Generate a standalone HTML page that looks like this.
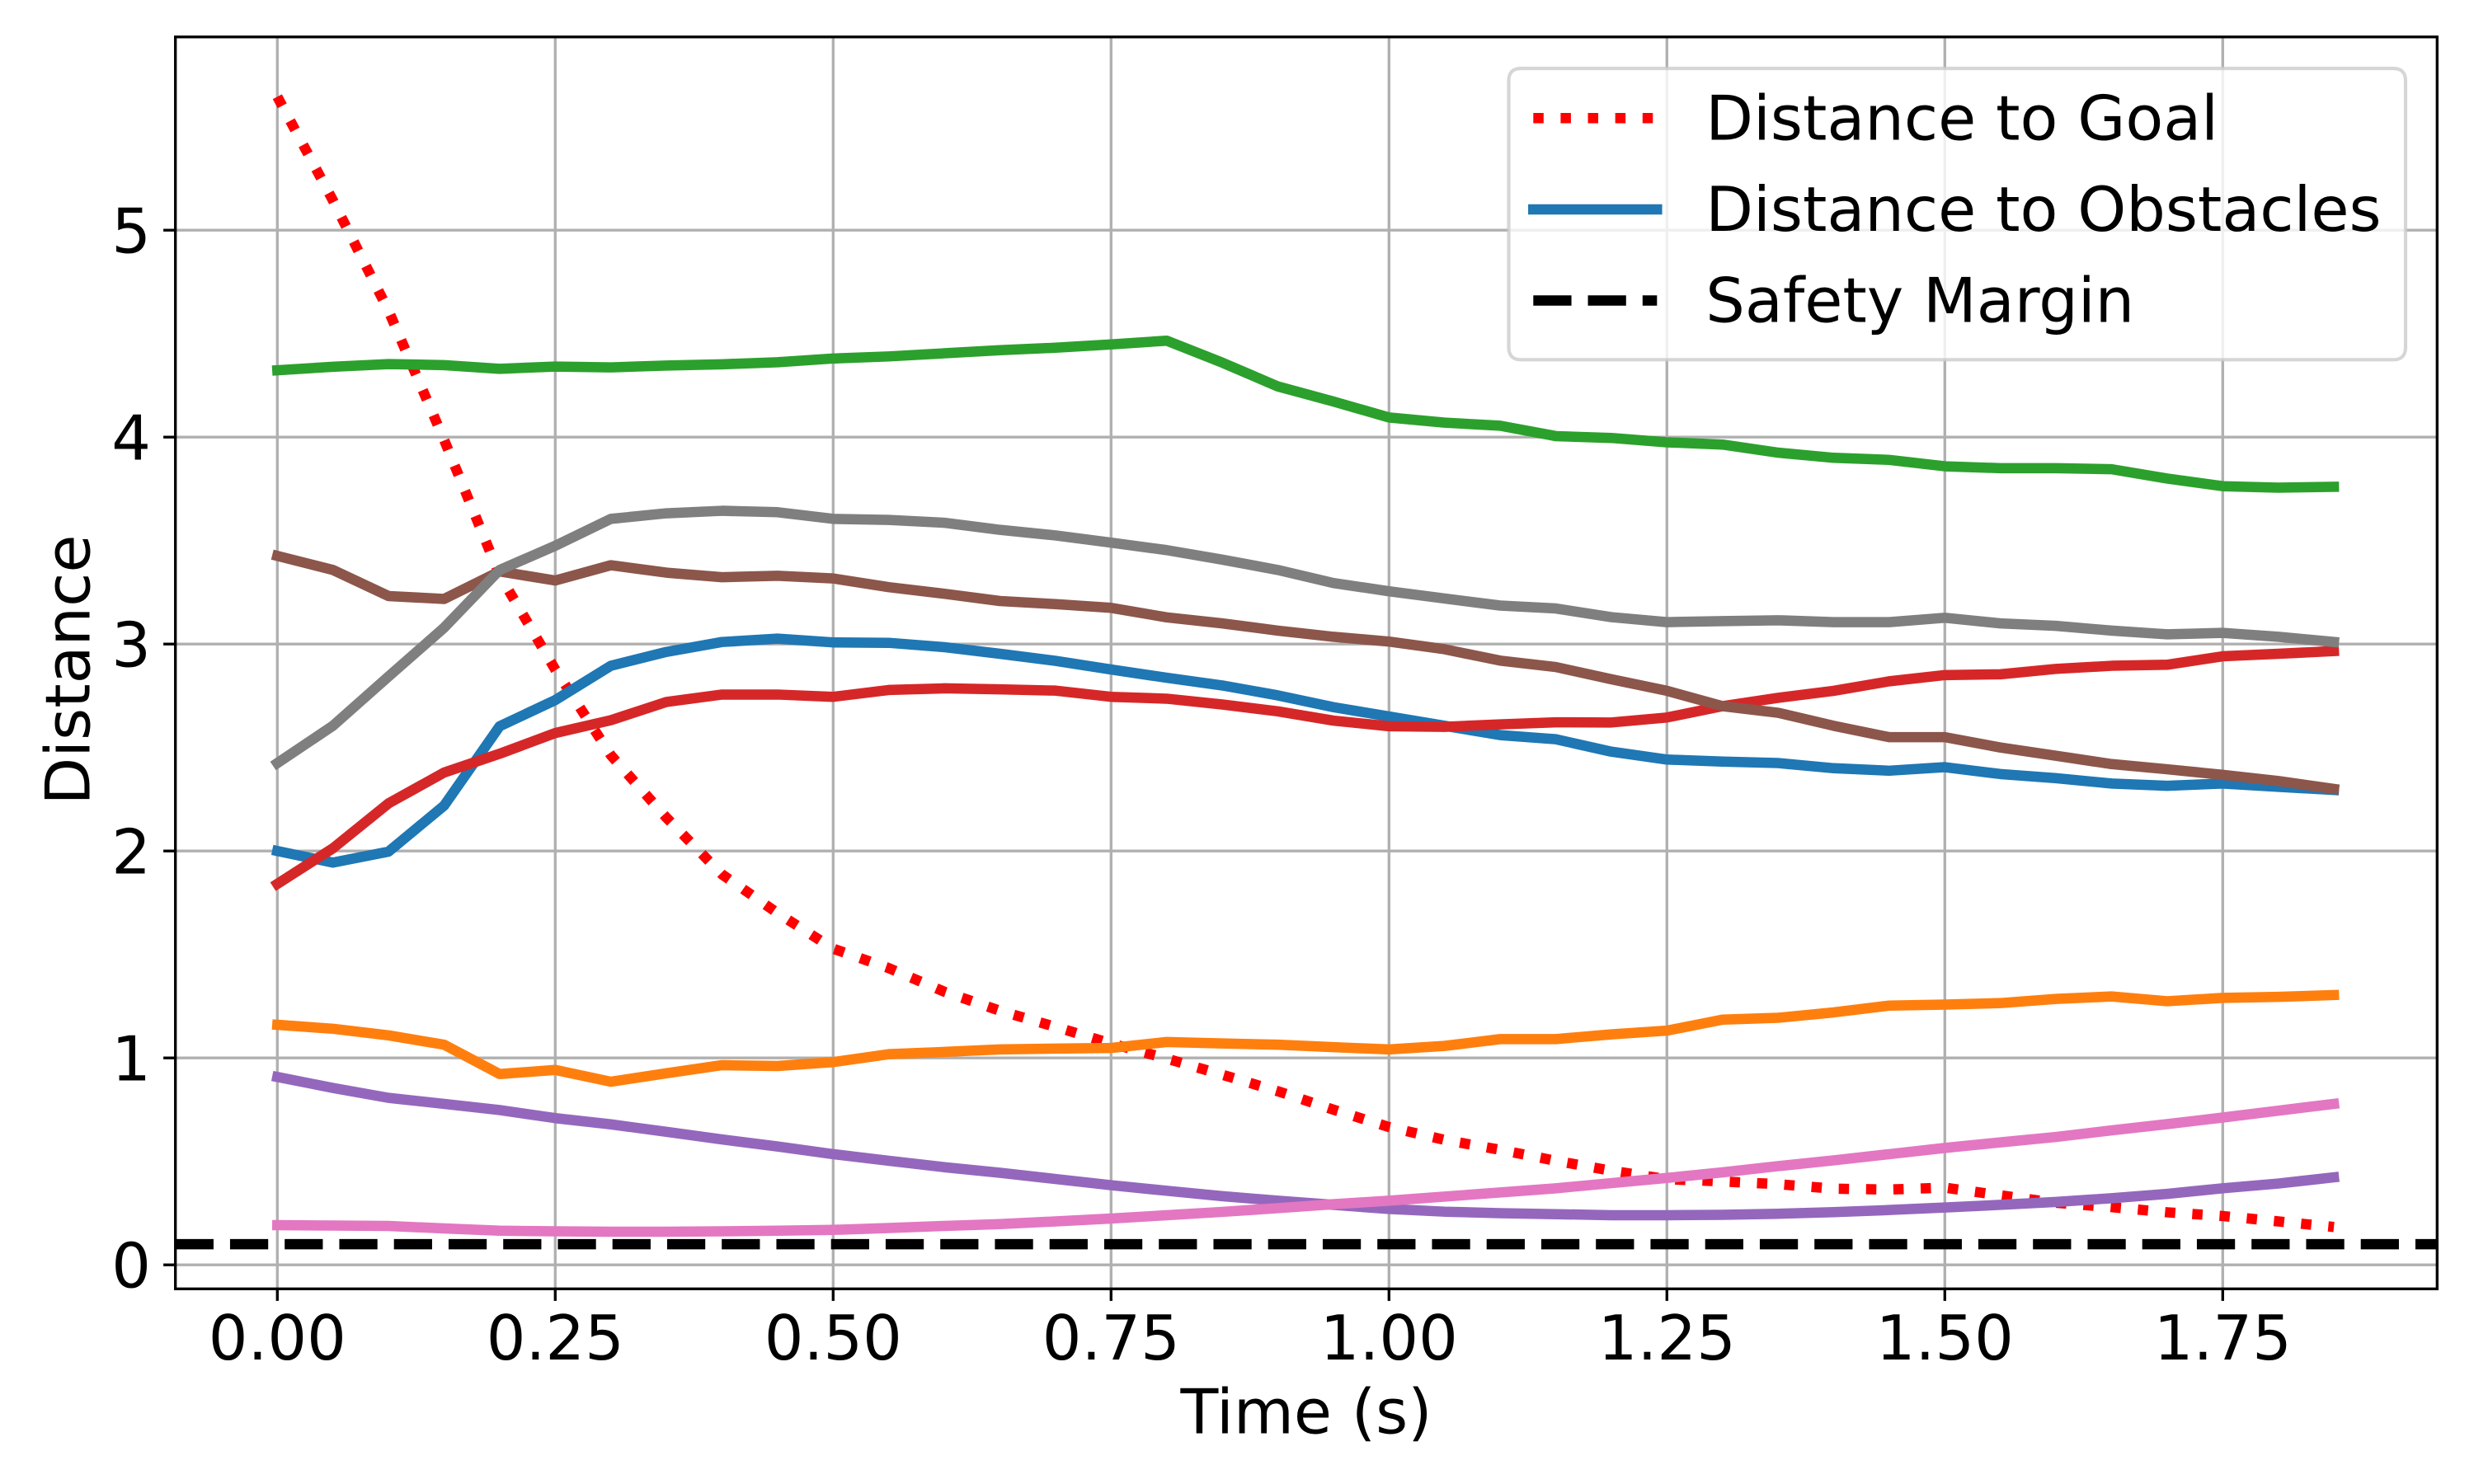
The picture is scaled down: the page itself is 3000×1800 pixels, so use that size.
<!DOCTYPE html>
<html lang="en">
<head>
<meta charset="utf-8">
<title>Distance over time</title>
<style>
  html, body { margin: 0; padding: 0; background: #fff; }
  svg { display: block; }
  text { font-family: "DejaVu Sans", "Liberation Sans", sans-serif; font-size: 75px; fill: #000; }
</style>
</head>
<body>
<svg id="chart" xmlns="http://www.w3.org/2000/svg" width="3000" height="1800" viewBox="0 0 3000 1800">
  <rect x="0" y="0" width="3000" height="1800" fill="#ffffff"/>
  <defs>
    <clipPath id="plot-clip"><rect x="212.7" y="44.8" width="2742.6" height="1518.5"/></clipPath>
  </defs>
  <g id="grid"></g>
  <g id="series" clip-path="url(#plot-clip)"></g>
  <g id="ticks"></g>
  <rect x="212.7" y="44.8" width="2742.6" height="1518.5" fill="none" stroke="#000" stroke-width="3.33"/>
  <text x="1584" y="1738.5" text-anchor="middle">Time (s)</text>
  <text transform="translate(108.5,812.5) rotate(-90)" text-anchor="middle">Distance</text>
  <g>
    <path d="M1844.5 83 H2902 Q2917 83 2917 98 V421.3 Q2917 436.3 2902 436.3 H1844.5 Q1829.5 436.3 1829.5 421.3 V98 Q1829.5 83 1844.5 83 Z" fill="#ffffff" fill-opacity="0.8" stroke="#cccccc" stroke-opacity="0.8" stroke-width="4.17"/>
    <line x1="1859.3" y1="143.3" x2="2009.3" y2="143.3" stroke="#ff0000" stroke-width="12.5" stroke-dasharray="12.5 20.62"/>
    <text x="2068.3" y="169.3">Distance to Goal</text>
    <line x1="1859.3" y1="254" x2="2009.3" y2="254" stroke="#1f77b4" stroke-width="12.5" stroke-linecap="square"/>
    <text x="2068.3" y="280">Distance to Obstacles</text>
    <line x1="1859.3" y1="364.5" x2="2009.3" y2="364.5" stroke="#000000" stroke-width="12.5" stroke-dasharray="46.25 20"/>
    <text x="2068.3" y="390.7">Safety Margin</text>
  </g>
</svg>
<script>
const times = [0, 0.05, 0.10, 0.15, 0.20, 0.25, 0.30, 0.35, 0.40, 0.45, 0.50, 0.55, 0.60, 0.65, 0.70, 0.75, 0.80, 0.85, 0.90, 0.95, 1.00, 1.05, 1.10, 1.15, 1.20, 1.25, 1.30, 1.35, 1.40, 1.45, 1.50, 1.55, 1.60, 1.65, 1.70, 1.75, 1.80, 1.85];
const goalDistance = [5.645, 5.144, 4.611, 3.987, 3.333, 2.877, 2.463, 2.161, 1.887, 1.70, 1.528, 1.434, 1.32, 1.228, 1.15, 1.07, 0.997, 0.919, 0.839, 0.75, 0.666, 0.604, 0.556, 0.503, 0.455, 0.414, 0.403, 0.39, 0.368, 0.364, 0.373, 0.336, 0.30, 0.279, 0.254, 0.236, 0.21, 0.183];
const obstacleBlue = [2.00, 1.944, 1.997, 2.219, 2.603, 2.729, 2.895, 2.962, 3.01, 3.026, 3.008, 3.006, 2.985, 2.953, 2.919, 2.877, 2.837, 2.8, 2.752, 2.695, 2.65, 2.605, 2.56, 2.54, 2.48, 2.442, 2.432, 2.425, 2.4, 2.388, 2.405, 2.372, 2.352, 2.326, 2.315, 2.326, 2.31, 2.295];
const obstacleOrange = [1.16, 1.141, 1.109, 1.064, 0.922, 0.942, 0.885, 0.926, 0.965, 0.961, 0.98, 1.018, 1.029, 1.041, 1.045, 1.048, 1.077, 1.07, 1.064, 1.052, 1.041, 1.058, 1.091, 1.091, 1.114, 1.132, 1.185, 1.194, 1.22, 1.253, 1.258, 1.265, 1.285, 1.297, 1.274, 1.29, 1.295, 1.304];
const obstacleGreen = [4.323, 4.34, 4.353, 4.348, 4.33, 4.341, 4.337, 4.346, 4.352, 4.362, 4.38, 4.39, 4.405, 4.42, 4.432, 4.448, 4.466, 4.36, 4.245, 4.172, 4.095, 4.07, 4.055, 4.005, 3.996, 3.975, 3.964, 3.925, 3.9, 3.89, 3.859, 3.85, 3.85, 3.845, 3.80, 3.763, 3.756, 3.76];
const obstacleRed = [1.841, 2.013, 2.23, 2.379, 2.47, 2.57, 2.632, 2.72, 2.756, 2.756, 2.745, 2.778, 2.786, 2.781, 2.775, 2.745, 2.736, 2.708, 2.675, 2.63, 2.603, 2.6, 2.612, 2.622, 2.621, 2.645, 2.7, 2.74, 2.774, 2.82, 2.85, 2.854, 2.88, 2.895, 2.90, 2.941, 2.953, 2.966];
const obstaclePurple = [0.908, 0.855, 0.807, 0.778, 0.748, 0.709, 0.679, 0.643, 0.606, 0.572, 0.535, 0.503, 0.472, 0.445, 0.415, 0.385, 0.358, 0.332, 0.31, 0.29, 0.27, 0.257, 0.25, 0.245, 0.24, 0.24, 0.242, 0.247, 0.255, 0.265, 0.277, 0.29, 0.304, 0.322, 0.343, 0.37, 0.393, 0.423];
const obstacleBrown = [3.426, 3.358, 3.232, 3.218, 3.351, 3.307, 3.381, 3.345, 3.323, 3.33, 3.317, 3.275, 3.243, 3.208, 3.193, 3.175, 3.129, 3.10, 3.065, 3.035, 3.012, 2.975, 2.92, 2.889, 2.83, 2.774, 2.7, 2.668, 2.605, 2.55, 2.55, 2.50, 2.46, 2.42, 2.395, 2.368, 2.338, 2.30];
const obstaclePink = [0.192, 0.19, 0.188, 0.176, 0.165, 0.162, 0.16, 0.16, 0.162, 0.165, 0.169, 0.178, 0.188, 0.197, 0.21, 0.224, 0.24, 0.256, 0.274, 0.293, 0.31, 0.33, 0.35, 0.37, 0.395, 0.42, 0.447, 0.477, 0.505, 0.535, 0.565, 0.592, 0.618, 0.65, 0.68, 0.712, 0.745, 0.778];
const obstacleGray = [2.425, 2.605, 2.843, 3.079, 3.358, 3.475, 3.605, 3.632, 3.644, 3.637, 3.605, 3.6, 3.586, 3.552, 3.525, 3.49, 3.454, 3.408, 3.358, 3.295, 3.255, 3.22, 3.186, 3.172, 3.13, 3.106, 3.111, 3.115, 3.106, 3.106, 3.127, 3.10, 3.088, 3.065, 3.047, 3.054, 3.035, 3.01];
const safetyMargin = 0.1;
const xTickValues = [0, 0.25, 0.5, 0.75, 1, 1.25, 1.5, 1.75];
const xTickLabels = ["0.00", "0.25", "0.50", "0.75", "1.00", "1.25", "1.50", "1.75"];
const yTickValues = [0, 1, 2, 3, 4, 5];
const yTickLabels = ["0", "1", "2", "3", "4", "5"];

const NS = 'http://www.w3.org/2000/svg';
const plot = { left: 212.7, right: 2955.3, top: 44.8, bottom: 1563.3 };
function xScale(t) { return 336.3 + 1348 * t; }
function yScale(v) { return 1534.2 - 251 * v; }

const gridLayer = document.getElementById('grid');
const tickLayer = document.getElementById('ticks');
const seriesLayer = document.getElementById('series');

function make(tag, parent, attrs) {
  const node = document.createElementNS(NS, tag);
  for (const key in attrs) node.setAttribute(key, attrs[key]);
  parent.appendChild(node);
  return node;
}

xTickValues.forEach(function (value, i) {
  const x = xScale(value);
  const gridLine = make('line', gridLayer, { x1: x, x2: x, y1: plot.top, y2: plot.bottom, stroke: '#b0b0b0', 'stroke-width': 3.33 });
  
  
  const tick = make('line', tickLayer, { x1: x, x2: x, y1: plot.bottom, y2: plot.bottom + 14.6, stroke: '#000', 'stroke-width': 3.33 });
  
  
  const label = make('text', tickLayer, { x: x, y: 1649, 'text-anchor': 'middle' });
  label.textContent = xTickLabels[i];
  
  
});

yTickValues.forEach(function (value, i) {
  const y = yScale(value);
  const gridLine = make('line', gridLayer, { x1: plot.left, x2: plot.right, y1: y, y2: y, stroke: '#b0b0b0', 'stroke-width': 3.33 });
  
  
  const tick = make('line', tickLayer, { x1: plot.left - 14.6, x2: plot.left, y1: y, y2: y, stroke: '#000', 'stroke-width': 3.33 });
  
  
  const label = make('text', tickLayer, { x: 183, y: y + 27.3, 'text-anchor': 'end' });
  label.textContent = yTickLabels[i];
  
  
});

function pointsFor(values) {
  return values.map(function (v, i) { return xScale(times[i]).toFixed(2) + ',' + yScale(v).toFixed(2); }).join(' ');
}

const goalLine = make('polyline', seriesLayer, {
  points: pointsFor(goalDistance), fill: 'none', stroke: '#ff0000', 'stroke-width': 12.5,
  'stroke-dasharray': '12.5 20.62', 'stroke-linejoin': 'round'
});



const obstacleSeries = [
  { values: obstacleBlue, color: '#1f77b4', name: 'blue' },
  { values: obstacleOrange, color: '#ff7f0e', name: 'orange' },
  { values: obstacleGreen, color: '#2ca02c', name: 'green' },
  { values: obstacleRed, color: '#d62728', name: 'red' },
  { values: obstaclePurple, color: '#9467bd', name: 'purple' },
  { values: obstacleBrown, color: '#8c564b', name: 'brown' },
  { values: obstaclePink, color: '#e377c2', name: 'pink' },
  { values: obstacleGray, color: '#7f7f7f', name: 'gray' }
];
obstacleSeries.forEach(function (series) {
  const line = make('polyline', seriesLayer, {
    points: pointsFor(series.values), fill: 'none', stroke: series.color, 'stroke-width': 12.5,
    'stroke-linecap': 'square', 'stroke-linejoin': 'round'
  });
  
  
});

const marginLine = make('line', seriesLayer, {
  x1: plot.left, x2: plot.right, y1: yScale(safetyMargin), y2: yScale(safetyMargin),
  stroke: '#000000', 'stroke-width': 12.5, 'stroke-dasharray': '46.25 20'
});


</script>
</body>
</html>
